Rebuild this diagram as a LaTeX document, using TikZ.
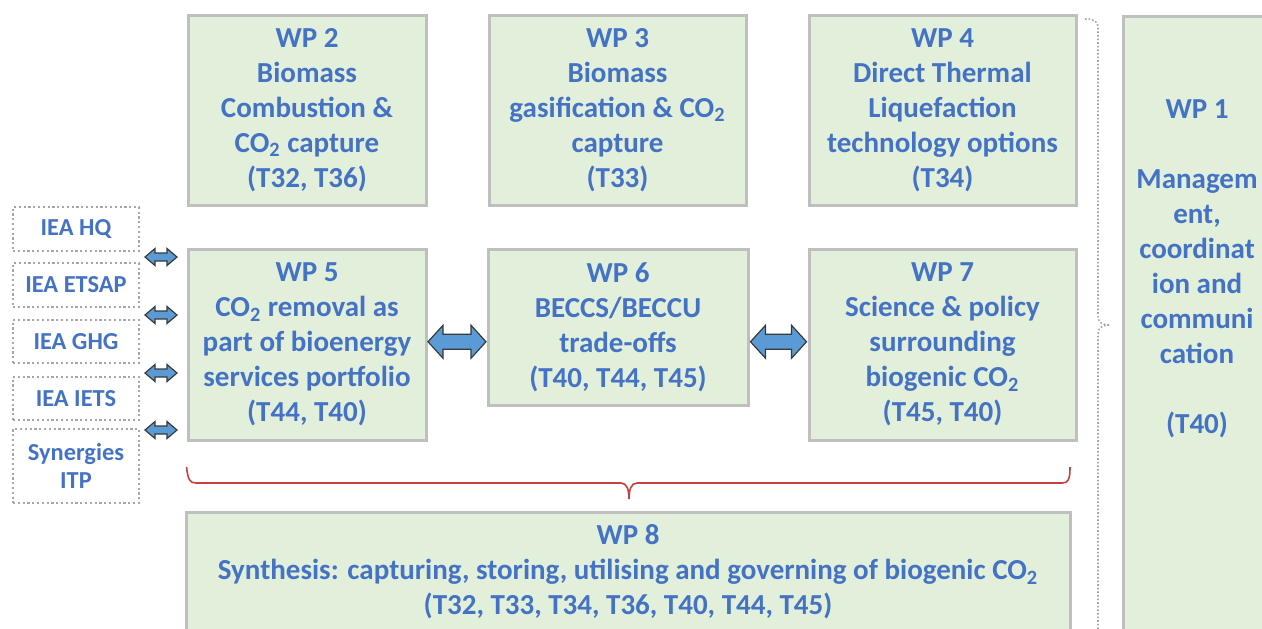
\documentclass[tikz,border=0pt]{standalone}
\usepackage{fontspec}
\setmainfont{Carlito}
\usetikzlibrary{positioning, calc}
\definecolor{wpgreen}{HTML}{E2EFDA}
\definecolor{wpborder}{HTML}{BFBFBF}
\definecolor{wpblue}{HTML}{4472C4}
\definecolor{arrowblue}{HTML}{5B9BD5}
\definecolor{arrowedge}{HTML}{3A3A3A}
\definecolor{bracered}{HTML}{C8413F}
\definecolor{dotgray}{HTML}{A6A6A6}

\tikzset{
  wpbox/.style={draw=wpborder, line width=1.5pt, fill=wpgreen, inner sep=0pt},
  wptext/.style={text=wpblue, font=\fontsize{14.5}{17.5}\selectfont\bfseries, align=center},
  partner/.style={draw=dotgray, line width=1.1pt, dash pattern=on 1.1pt off 1.3pt,
    text=wpblue, font=\fontsize{12.2}{14}\selectfont\bfseries, align=center,
    minimum width=63pt, inner sep=0pt},
  % block double arrow: half length, half shaft, half head, head length
  pics/dblarrow/.style n args={4}{code={
    \draw[draw=arrowedge, fill=arrowblue, line width=0.6pt, line join=miter]
      (-#1,0) -- ++(#4,-#3) -- ++(0,#3-#2) -- (#1-#4,-#2) -- ++(0,#2-#3)
      -- (#1,0) -- ++(-#4,#3) -- ++(0,#2-#3) -- (-#1+#4,#2) -- ++(0,#3-#2) -- cycle;
  }},
}

\begin{document}
\begin{tikzpicture}[x=0.5pt, y=-0.5pt]
  \useasboundingbox (0,0) rectangle (1262,628);
  \clip (0,0) rectangle (1262,628);

  % top row
  \node[wpbox, wptext, minimum width=119pt, minimum height=95pt] (wp2) at (307,110)
    {WP 2\\Biomass\\Combustion \&\\CO\textsubscript{2} capture\\(T32, T36)};
  \node[wpbox, wptext, minimum width=128.5pt, minimum height=95pt] (wp3) at (617.5,110)
    {WP 3\\Biomass\\gasification \& CO\textsubscript{2}\\capture\\(T33)};
  \node[wpbox, wptext, minimum width=133.5pt, minimum height=95pt] (wp4) at (942.5,110)
    {WP 4\\Direct Thermal\\Liquefaction\\technology options\\(T34)};

  % middle row
  \node[wpbox, wptext, minimum width=119pt, minimum height=95.5pt] (wp5) at (307,344.5)
    {WP 5\\CO\textsubscript{2} removal as\\part of bioenergy\\services portfolio\\(T44, T40)};
  \node[wpbox, wptext, minimum width=130pt, minimum height=78pt] (wp6) at (618,327)
    {WP 6\\BECCS/BECCU\\trade-offs\\(T40, T44, T45)};
  \node[wpbox, wptext, minimum width=133.5pt, minimum height=95.5pt] (wp7) at (942.5,344.5)
    {WP 7\\Science \& policy\\surrounding\\biogenic CO\textsubscript{2}\\(T45, T40)};

  % synthesis
  \node[wpbox, wptext, minimum width=442pt, minimum height=60pt] (wp8) at (628,572)
    {WP 8\\Synthesis: capturing, storing, utilising and governing of biogenic CO\textsubscript{2}\\(T32, T33, T34, T36, T40, T44, T45)};

  % management column
  \node[wpbox, minimum width=74pt, minimum height=400pt, anchor=north] (wp1box) at (1197,15) {};
  \node[wptext] (wp1) at (1197,269)
    {WP 1\\[17.5pt]Managem\\ent,\\coordinat\\ion and\\communi\\cation\\[17.5pt](T40)};

  % partner programmes
  \node[partner, minimum height=22pt] (hq) at (76,229) {IEA HQ};
  \node[partner, minimum height=22pt] (etsap) at (76,285) {IEA ETSAP};
  \node[partner, minimum height=21.5pt] (ghg) at (76,341.5) {IEA GHG};
  \node[partner, minimum height=21.5pt] (iets) at (76,398.5) {IEA IETS};
  \node[partner, minimum height=37pt] (itp) at (76,466) {Synergies\\ITP};

  \foreach \y [count=\i] in {257,315,373,430}
    \pic (link\i) at (161,\y) {dblarrow={16}{4}{8.5}{10}};

  \pic (a56) at ($(wp5.east)!0.5!(wp6.west)+(0,6)$) {dblarrow={29}{7.5}{16.5}{15}};
  \pic (a67) at ($(wp6.east)!0.5!(wp7.west)+(0,6)$) {dblarrow={28}{7.5}{16.5}{15}};

  % brace over WP 8
  \draw[bracered, line width=0.8pt]
    (wp5.south west |- 0,467) .. controls (188,480) and (190,483) .. (196,483)
    -- (621,483) .. controls (627,483) and (629,490) .. (629,499)
    .. controls (629,490) and (631,483) .. (637,483)
    -- (1062,483) .. controls (1068,483) and (1070,480) .. (1070,467);

  % brace towards WP 1
  \draw[dotgray, line width=0.8pt, densely dotted]
    (1085,19) .. controls (1094,19) and (1098,21) .. (1098,28)
    -- (1098,316) .. controls (1098,322) and (1102,325) .. (1110,325)
    .. controls (1102,325) and (1098,328) .. (1098,334)
    -- (1098,640);
\end{tikzpicture}
\end{document}
